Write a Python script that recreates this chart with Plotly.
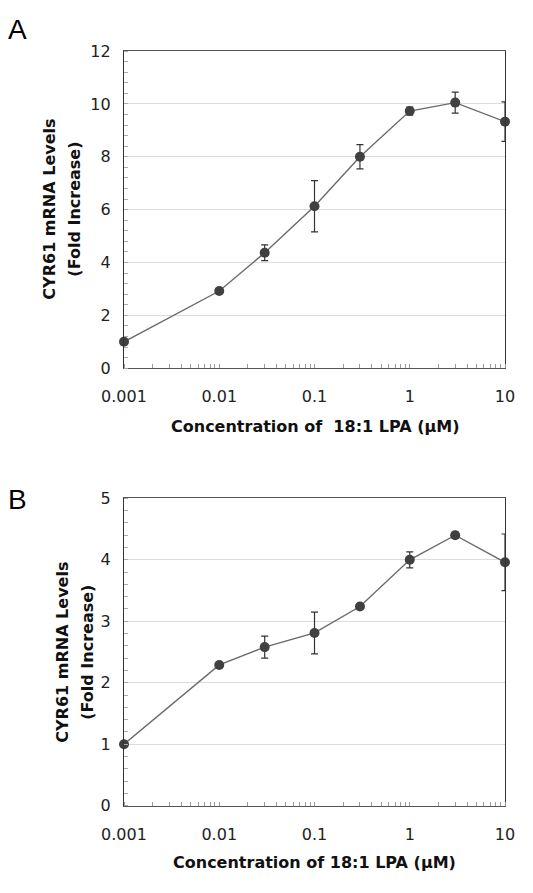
import plotly.graph_objects as go

# ---- data ----
conc = [0.001, 0.01, 0.03, 0.1, 0.3, 1, 3, 10]
fold_a = [1.0, 2.92, 4.37, 6.13, 8.0, 9.73, 10.05, 9.33]
err_a = [0.0, 0.08, 0.3, 0.97, 0.46, 0.15, 0.4, 0.75]
fold_b = [1.0, 2.29, 2.58, 2.81, 3.24, 4.0, 4.40, 3.96]
err_b = [0.0, 0.03, 0.18, 0.34, 0.04, 0.13, 0.05, 0.46]
xtick_vals = [0.001, 0.01, 0.1, 1, 10]
xtick_text = ["0.001", "0.01", "0.1", "1", "10"]
ytick_a = [0, 2, 4, 6, 8, 10, 12]
ytick_b = [0, 1, 2, 3, 4, 5]

W, H = 533, 893
L, R = 124, 28
PW = W - L - R

def px_x(p):
    return (p - L) / PW

def px_y(p):
    return 1 - p / H

tick_font = dict(family="DejaVu Sans", size=16, color="#222")
title_font = dict(family="DejaVu Sans", size=16, color="#111")

fig = go.Figure()

for fold, err, xa, ya in [(fold_a, err_a, "x", "y"), (fold_b, err_b, "x2", "y2")]:
    fig.add_trace(go.Scatter(
        x=conc, y=fold, xaxis=xa, yaxis=ya, mode="lines+markers",
        line=dict(color="#6a6a6a", width=1.4),
        marker=dict(color="#404040", size=10),
        error_y=dict(type="data", array=err, visible=True, color="#333", thickness=1.2, width=3.5),
        cliponaxis=False, showlegend=False,
    ))

def xaxis_cfg(anchor):
    return dict(
        type="log", range=[-3, 1], anchor=anchor,
        tickvals=xtick_vals, ticktext=xtick_text, tickfont=tick_font,
        ticks="outside", ticklen=14, tickcolor="rgba(0,0,0,0)",
        showgrid=False, zeroline=False,
        showline=True, linecolor="#555", linewidth=1.2, mirror=True,
        minor=dict(ticks="inside", ticklen=4, tickcolor="#999", dtick="D1", showgrid=False),
    )

def yaxis_cfg(anchor, rng, vals, minor_dt, domain):
    return dict(
        range=rng, anchor=anchor, domain=domain,
        tickvals=vals, tickfont=tick_font,
        ticks="outside", ticklen=9, tickcolor="rgba(0,0,0,0)",
        showgrid=True, gridcolor="#dcdcdc", gridwidth=1, zeroline=False,
        showline=True, linecolor="#333", linewidth=1.2, mirror=True,
        minor=dict(ticks="inside", ticklen=4, tickcolor="#aaa", dtick=minor_dt, showgrid=False),
    )

fig.update_layout(
    width=W, height=H,
    margin=dict(l=L, r=R, t=0, b=0),
    paper_bgcolor="white", plot_bgcolor="white",
    xaxis=xaxis_cfg("y"),
    yaxis=yaxis_cfg("x", [0, 12], ytick_a, 0.4, [px_y(367), px_y(43)]),
    xaxis2=xaxis_cfg("y2"),
    yaxis2=yaxis_cfg("x2", [0, 5], ytick_b, 0.2, [px_y(814), px_y(500)]),
)

ann = []
# panel labels
ann.append(dict(text="A", x=px_x(6), y=px_y(21), xanchor="left", yanchor="middle",
                font=dict(family="Liberation Sans", size=28, color="#000")))
ann.append(dict(text="B", x=px_x(6), y=px_y(501.5), xanchor="left", yanchor="middle",
                font=dict(family="Liberation Sans", size=28, color="#000")))
# y titles
for txt, xp, yp in [("<b>CYR61 mRNA Levels</b>", 50, 205), ("<b>(Fold Increase)</b>", 75, 205),
                    ("<b>CYR61 mRNA Levels</b>", 61.7, 657), ("<b>(Fold Increase)</b>", 86.7, 657)]:
    ann.append(dict(text=txt, x=px_x(xp), y=px_y(yp), xanchor="center", yanchor="middle",
                    textangle=-90, font=title_font))
# x titles
ann.append(dict(text="<b>Concentration of  18:1 LPA (µM)</b>", x=0.5, y=px_y(427),
                xanchor="center", yanchor="middle", font=title_font))
ann.append(dict(text="<b>Concentration of 18:1 LPA (µM)</b>", x=0.5, y=px_y(871.7),
                xanchor="center", yanchor="middle", font=title_font))
for a in ann:
    a.update(xref="paper", yref="paper", showarrow=False)
fig.update_layout(annotations=ann)

fig.write_html("out.html", config={"displayModeBar": False},
               post_script="document.body.style.margin='0';document.body.style.overflow='hidden';")
